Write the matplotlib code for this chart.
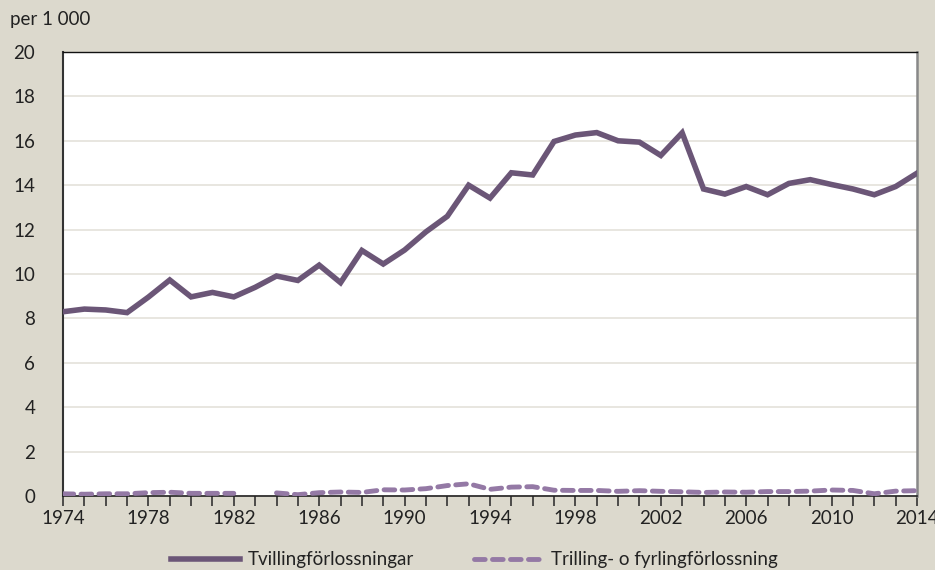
import matplotlib
matplotlib.use("Agg")
import matplotlib.pyplot as plt
import numpy as np

# Data (per 1 000 deliveries)
years = list(range(1974, 2015))
twins = [
    8.30, 8.42, 8.38, 8.26, 8.96, 9.73, 8.97, 9.17, 8.97, 9.40,
    9.91, 9.71, 10.40, 9.61, 11.06, 10.45, 11.08, 11.90, 12.60, 14.00,
    13.42, 14.56, 14.46, 15.97, 16.26, 16.37, 16.00, 15.94, 15.34, 16.36,
    13.83, 13.60, 13.94, 13.57, 14.08, 14.25, 14.03, 13.83, 13.57, 13.94,
    14.54,
]
triplets = [
    0.10, 0.08, 0.10, 0.10, 0.15, 0.17, 0.12, 0.12, 0.12, np.nan,
    0.14, 0.06, 0.15, 0.18, 0.16, 0.28, 0.27, 0.33, 0.47, 0.55,
    0.30, 0.40, 0.42, 0.26, 0.25, 0.25, 0.21, 0.24, 0.21, 0.19,
    0.16, 0.18, 0.17, 0.20, 0.20, 0.22, 0.27, 0.25, 0.10, 0.22,
    0.24,
]
series_labels = ["Tvillingförlossningar", "Trilling- o fyrlingförlossning"]
unit_label = "per 1 000"
y_ticks = list(range(0, 21, 2))
x_label_years = list(range(1974, 2015, 4))

BG_COLOR = "#dcd9cd"
GRID_COLOR = "#e4e2da"
TWIN_COLOR = "#6b5677"
TRIP_COLOR = "#9479a5"
TEXT_COLOR = "#222222"
FONT_SIZE = 13.5

plt.rcParams["font.family"] = ["Lato", "DejaVu Sans"]

fig = plt.figure(figsize=(9.35, 5.7), dpi=100, facecolor=BG_COLOR)
ax = fig.add_axes([63 / 935, 1 - 496 / 570, (917 - 63) / 935, (496 - 52) / 570])
ax.set_facecolor("white")

ax.plot(years, twins, color=TWIN_COLOR, linewidth=4, solid_joinstyle="miter",
        label=series_labels[0], zorder=3)
ax.plot(years, triplets, color=TRIP_COLOR, linewidth=3.5, linestyle=(0, (2.2, 1.5)),
        dash_capstyle="round", label=series_labels[1], zorder=3)

ax.set_xlim(1974, 2014)
ax.set_ylim(0, 20)
ax.set_yticks(y_ticks)
ax.set_xticks(years, minor=True)
ax.set_xticks(x_label_years)
ax.grid(True, axis="y", color=GRID_COLOR, linewidth=1.2)
ax.set_axisbelow(True)

ax.tick_params(axis="y", length=0, pad=20, labelsize=FONT_SIZE, labelcolor=TEXT_COLOR)
ax.tick_params(axis="x", which="both", direction="out", length=7, width=1.2,
               color="#333333", labelsize=FONT_SIZE, labelcolor=TEXT_COLOR, pad=3)

ax.spines["left"].set_color("#333333")
ax.spines["left"].set_linewidth(1.5)
ax.spines["bottom"].set_color("#222222")
ax.spines["bottom"].set_linewidth(1.2)
ax.spines["top"].set_color("#111111")
ax.spines["top"].set_linewidth(1.0)
ax.spines["right"].set_color("#888888")
ax.spines["right"].set_linewidth(1.8)

fig.text(10 / 935, 1 - 20 / 570, unit_label, fontsize=FONT_SIZE, color=TEXT_COLOR,
         ha="left", va="center")

fig.legend(loc="center", bbox_to_anchor=(0.507, 0.018), ncol=2, frameon=False,
           fontsize=FONT_SIZE, handlelength=3.7, columnspacing=3.2, handletextpad=0.4,
           labelcolor=TEXT_COLOR)

fig.savefig("out.png", dpi=100, facecolor=BG_COLOR)
